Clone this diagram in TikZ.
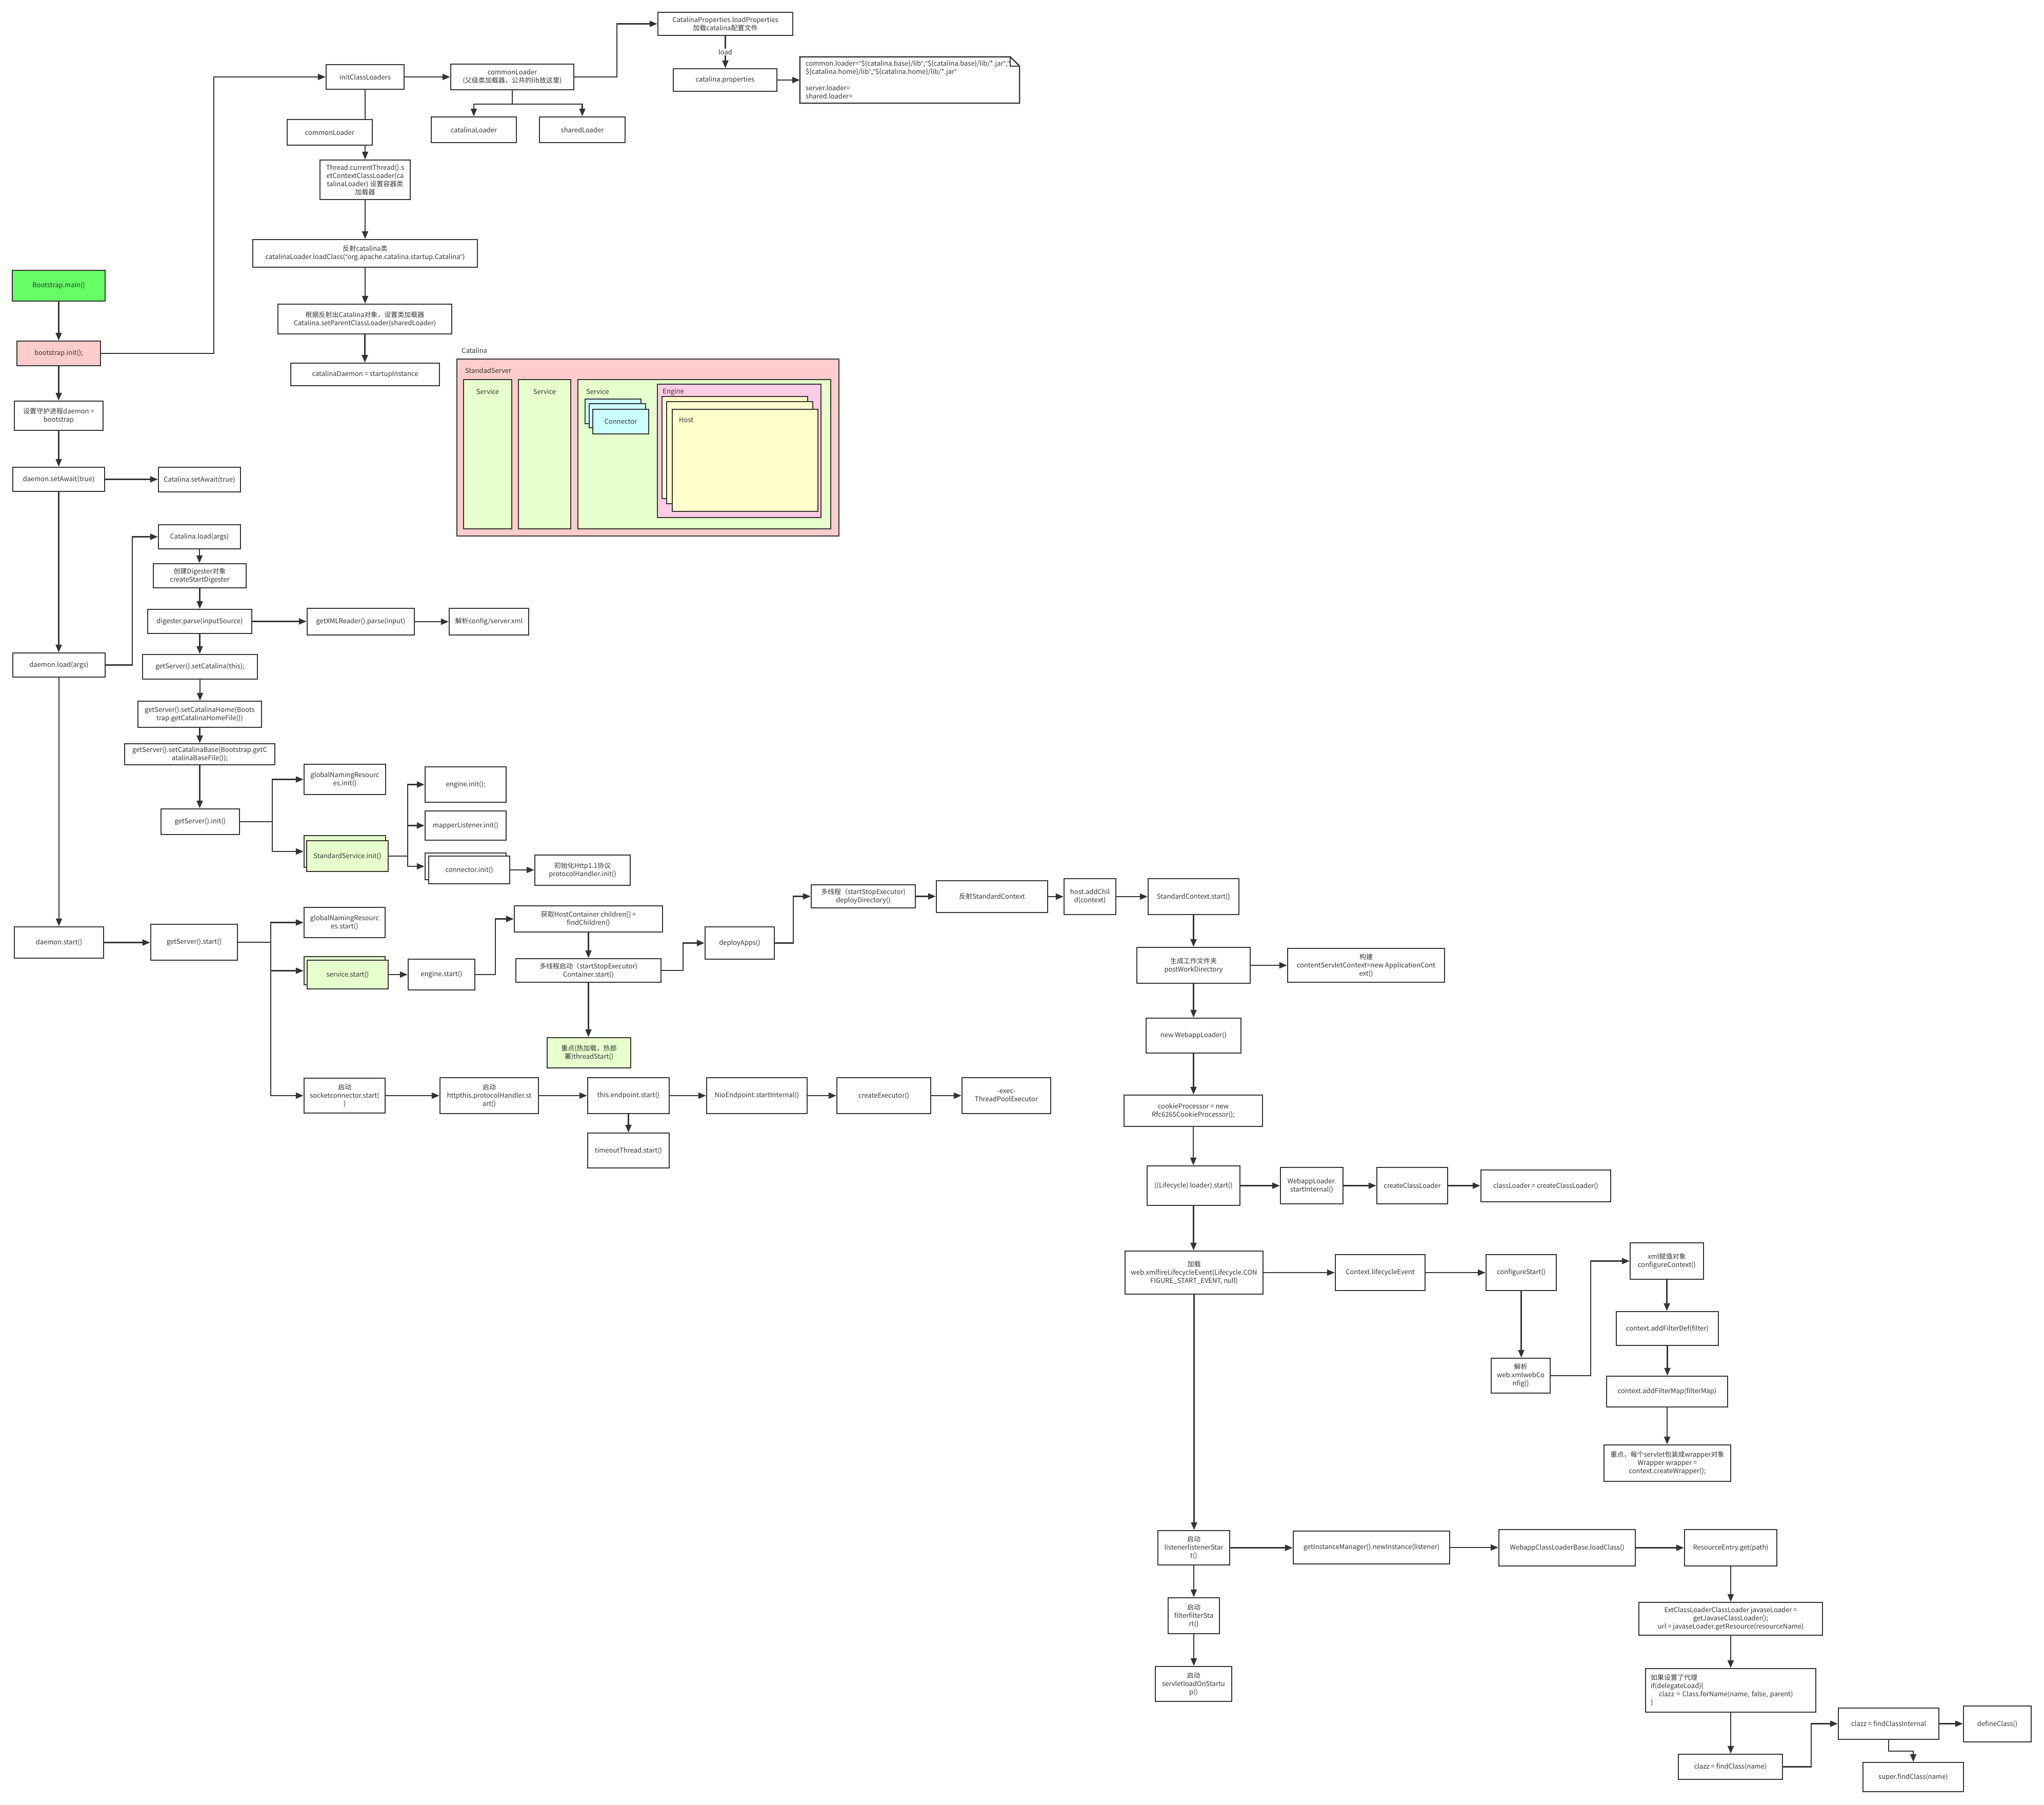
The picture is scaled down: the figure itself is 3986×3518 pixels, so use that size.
\documentclass[tikz,border=0pt]{standalone}
\usepackage{fontspec}
\setmainfont{Noto Sans CJK SC}
\newfontfamily\latf{Liberation Sans}
\newcommand{\dq}{{\latf"}}
\usetikzlibrary{arrows.meta,calc}
\definecolor{ln}{HTML}{333333}
\definecolor{bgreen}{HTML}{66FF66}
\definecolor{pinkf}{HTML}{FFCCCC}
\definecolor{lgreen}{HTML}{E6FFCC}
\definecolor{cyanf}{HTML}{CCFFFF}
\definecolor{engf}{HTML}{FFCCE6}
\definecolor{hostf}{HTML}{FFFFCC}
\tikzset{
  txt/.style={text=ln, font=\fontsize{13}{16}\selectfont},
  bx/.style={txt, draw=ln, line width=2.4pt, fill=white, align=center, inner sep=2pt},
  arr/.style={draw=ln, line width=2.2pt, -{Triangle[length=15pt,width=12pt]}},
  plain/.style={draw=ln, line width=2.2pt},
}
\newcommand{\mybox}[7][]{\node[bx,minimum width={(#5)-(#3)},minimum height={(#6)-(#4)},#1] (#2) at ({((#3)+(#5))/2},{((#4)+(#6))/2}) {#7};}
\begin{document}
\begin{tikzpicture}[x=1pt,y=-1pt]
\fill[white] (0,0) rectangle (3986,3518);
\useasboundingbox (0,0) rectangle (3986,3518);

% ---------- top: class loaders ----------
\mybox[fill=bgreen]{bmain}{24}{527}{205}{587}{Bootstrap.main()}
\mybox[fill=pinkf]{binit}{33}{665}{196}{713}{bootstrap.init();}
\mybox{icl}{636}{126}{788}{174}{initClassLoaders}
\mybox{cla}{560}{233}{726}{283}{commonLoader}
\mybox{thr}{624}{312}{800}{389}{Thread.currentThread().s\\etContextClassLoader(ca\\talinaLoader) 设置容器类\\加载器}
\mybox{refl}{493}{467}{931}{521}{反射catalina类\\catalinaLoader.loadClass(\dq org.apache.catalina.startup.Catalina\dq)}
\mybox{setp}{542}{593}{881}{651}{根据反射出Catalina对象，设置类加载器\\Catalina.setParentClassLoader(sharedLoader)}
\mybox{cd}{567}{708}{857}{752}{catalinaDaemon = startupInstance}
\mybox{clb}{879}{125}{1119}{175}{commonLoader\\(父级类加载器，公共的lib放这里)}
\mybox{catl}{841}{228}{1007}{278}{catalinaLoader}
\mybox{shl}{1052}{228}{1219}{278}{sharedLoader}
\mybox{cprop}{1283}{24}{1546}{69}{CatalinaProperties.loadProperties\\加载catalina配置文件}
\mybox{cpf}{1313}{134}{1515}{178}{catalina.properties}
\node[txt, minimum width=428, minimum height=90, inner sep=0] (note) at (1774,156) {};
\draw[draw=ln, line width=2.4pt, fill=white] (note.north west) -- ($(note.north east)+(-18,0)$) -- ($(note.north east)+(0,18)$) -- (note.south east) -- (note.south west) -- cycle;
\draw[draw=ln, line width=1.5pt] ($(note.north east)+(-18,0)$) -- ($(note.north east)+(-18,18)$) -- ($(note.north east)+(0,18)$);
\node[txt, anchor=north west, align=left, inner sep=0] (notetxt) at (1571,117) {common.loader=\dq\$\{catalina.base\}/lib\dq,\dq\$\{catalina.base\}/lib/*.jar\dq,\dq\\\$\{catalina.home\}/lib\dq,\dq\$\{catalina.home\}/lib/*.jar\dq\\[16pt]server.loader=\\shared.loader=};

\draw[arr] (bmain.south) -- (bmain.south |- binit.north);
\draw[arr] (binit.east) -- ++(220,0) |- (icl.west);
\draw[arr] (icl.east) -- (clb.west);
\draw[plain] (icl.south) -- (icl.south |- cla.north);
\draw[arr] (thr.north |- cla.south) -- (thr.north);
\draw[arr] (thr.south) -- (thr.south |- refl.north);
\draw[arr] (refl.south) -- (refl.south |- setp.north);
\draw[arr] (setp.south) -- (setp.south |- cd.north);
\coordinate (clbj) at ($(clb.south)+(0,27)$);
\draw[plain] (clb.south) -- (clbj);
\draw[arr] (clbj) -| (catl.north);
\draw[arr] (clbj) -| (shl.north);
\draw[arr] (clb.east) -- ++(83,0) |- (cprop.west);
\draw[arr] (cprop.south) -- (cprop.south |- cpf.north) node[midway, txt, fill=white, inner sep=1pt] (loadlbl) {load};
\draw[arr] (cpf.east) -- (note.west);

% ---------- Catalina structure ----------
\node[txt, anchor=west, inner sep=0] (catlbl) at (900,683) {Catalina};
\mybox[fill=pinkf]{stdsrv}{891}{700}{1636}{1045}{}
\node[txt, anchor=west, inner sep=0] (srvlbl) at (907,722) {StandadServer};
\mybox[fill=lgreen]{sva}{904}{740}{998}{1031}{}
\mybox[fill=lgreen]{svb}{1011}{740}{1113}{1031}{}
\mybox[fill=lgreen]{svc}{1127}{740}{1620}{1031}{}
\node[txt, inner sep=0] (svalbl) at (951,764) {Service};
\node[txt, inner sep=0] (svblbl) at (1062,764) {Service};
\node[txt, anchor=west, inner sep=0] (svclbl) at (1143,764) {Service};
\mybox[fill=cyanf]{cona}{1141}{778}{1250}{826}{}
\mybox[fill=cyanf]{conb}{1149}{787}{1259}{834}{}
\mybox[fill=cyanf]{conc}{1156}{798}{1265}{846}{Connector}
\mybox[fill=engf]{eng}{1282}{749}{1601}{1009}{}
\node[txt, anchor=west, inner sep=0] (englbl) at (1292,764) {Engine};
\mybox[fill=hostf]{hsa}{1291}{773}{1575}{972}{}
\mybox[fill=hostf]{hsb}{1300}{783}{1585}{982}{}
\mybox[fill=hostf]{hsc}{1311}{798}{1595}{997}{}
\node[txt, anchor=west, inner sep=0] (hstlbl) at (1324,819) {Host};

% ---------- daemon / load ----------
\mybox{dmn}{28}{782}{201}{839}{设置守护进程daemon =\\bootstrap}
\mybox{setaw}{25}{911}{204}{958}{daemon.setAwait(true)}
\mybox{csetaw}{309}{911}{469}{959}{Catalina.setAwait(true)}
\mybox{dload}{25}{1273}{205}{1320}{daemon.load(args)}
\mybox{cload}{309}{1023}{469}{1070}{Catalina.load(args)}
\mybox{dig}{299}{1099}{480}{1146}{创建Digester对象\\createStartDigester}
\mybox{parse}{288}{1188}{491}{1235}{digester.parse(inputSource)}
\mybox{xmlr}{599}{1186}{808}{1238}{getXMLReader().parse(input)}
\mybox{srvxml}{876}{1186}{1031}{1238}{解析config/server.xml}
\mybox{setcat}{278}{1276}{502}{1324}{getServer().setCatalina(this);}
\mybox{sethome}{269}{1367}{510}{1418}{getServer().setCatalinaHome(Boots\\trap.getCatalinaHomeFile())}
\mybox{setbase}{243}{1450}{536}{1491}{getServer().setCatalinaBase(Bootstrap.getC\\atalinaBaseFile());}
\mybox{sinit}{314}{1577}{467}{1627}{getServer().init()}
\mybox{gnrinit}{593}{1490}{752}{1549}{globalNamingResourc\\es.init()}
\mybox[fill=lgreen]{ssinitb}{593}{1629}{752}{1691}{}
\mybox[fill=lgreen]{ssinit}{598}{1639}{757}{1699}{StandardService.init()}
\mybox{einit}{829}{1495}{987}{1564}{engine.init();}
\mybox{mlinit}{829}{1581}{987}{1638}{mapperListener.init()}
\mybox{cinitb}{829}{1663}{987}{1715}{}
\mybox{cinit}{836}{1669}{994}{1723}{connector.init()}
\mybox{http}{1043}{1667}{1229}{1726}{初始化Http1.1协议\\protocolHandler.init()}

\draw[arr] (binit.south) -- (binit.south |- dmn.north);
\draw[arr] (dmn.south) -- (dmn.south |- setaw.north);
\draw[arr] (setaw.east) -- (setaw.east -| csetaw.west);
\draw[arr] (setaw.south) -- (setaw.south |- dload.north);
\draw[arr] (dload.east) -- ++(52,0) |- (cload.west);
\draw[arr] (cload.south) -- (cload.south |- dig.north);
\draw[arr] (dig.south) -- (dig.south |- parse.north);
\draw[arr] (parse.east) -- (parse.east -| xmlr.west);
\draw[arr] (xmlr.east) -- (xmlr.east -| srvxml.west);
\draw[arr] (parse.south) -- (parse.south |- setcat.north);
\draw[arr] (setcat.south) -- (setcat.south |- sethome.north);
\draw[arr] (sethome.south) -- (sethome.south |- setbase.north);
\draw[arr] (setbase.south) -- (setbase.south |- sinit.north);
\draw[arr] (sinit.east) -- ++(63,0) |- (gnrinit.west);
\draw[arr] (sinit.east) -- ++(63,0) |- (ssinitb.west);
\draw[arr] (ssinit.east) -- ++(37,0) |- (einit.west);
\draw[arr] (ssinit.east) -- ++(37,0) |- (mlinit.west);
\draw[arr] (ssinit.east) -- ++(37,0) |- (cinitb.west);
\draw[arr] (cinit.east) -- (cinit.east -| http.west);

% ---------- start ----------
\mybox{dstart}{28}{1807}{202}{1868}{daemon.start()}
\mybox{gsstart}{294}{1802}{463}{1872}{getServer().start()}
\mybox{gnrstart}{593}{1769}{751}{1828}{globalNamingResourc\\es.start()}
\mybox[fill=lgreen]{svstartb}{593}{1865}{751}{1920}{}
\mybox[fill=lgreen]{svstart}{599}{1872}{757}{1928}{service.start()}
\mybox{estart}{796}{1870}{926}{1930}{engine.start()}
\mybox{hostc}{1003}{1766}{1292}{1817}{获取HostContainer children[] =\\findChildren()}
\mybox{cstart}{1006}{1869}{1289}{1915}{多线程启动（startStopExecutor)\\Container.start()}
\mybox[fill=lgreen]{tstart}{1067}{2023}{1230}{2082}{重点(热加载，热部\\署)threadStart()}
\mybox{sock}{593}{2102}{751}{2170}{启动\\socketconnector.start(\\)}
\mybox{phs}{858}{2101}{1050}{2171}{启动\\httpthis.protocolHandler.st\\art()}
\mybox{ep}{1146}{2101}{1305}{2171}{this.endpoint.start()}
\mybox{tot}{1146}{2209}{1305}{2277}{timeoutThread.start()}
\mybox{nio}{1378}{2101}{1574}{2171}{NioEndpoint.startInternal()}
\mybox{cexec}{1632}{2101}{1815}{2171}{createExecutor()}
\mybox{tpe}{1876}{2101}{2049}{2171}{-exec-\\ThreadPoolExecutor}
\mybox{dapps}{1375}{1807}{1510}{1870}{deployApps()}
\mybox{ddir}{1582}{1725}{1785}{1770}{多线程（startStopExecutor)\\deployDirectory()}
\mybox{rsc}{1826}{1717}{2043}{1779}{反射StandardContext}
\mybox{hadd}{2075}{1713}{2176}{1783}{host.addChil\\d(context)}

\draw[arr] (dload.south) -- (dload.south |- dstart.north);
\draw[arr] (dstart.east) -- (dstart.east -| gsstart.west);
\draw[arr] (gsstart.east) -- ++(64,0) |- (gnrstart.west);
\draw[arr] (gsstart.east) -- ++(64,0) |- (svstartb.west);
\draw[arr] (gsstart.east) -- ++(64,0) |- (sock.west);
\draw[arr] (svstart.east) -- (svstart.east -| estart.west);
\draw[arr] (estart.east) -- ++(39,0) |- (hostc.west);
\draw[arr] (hostc.south) -- (hostc.south |- cstart.north);
\draw[arr] (cstart.south) -- (cstart.south |- tstart.north);
\draw[arr] (cstart.east) -- ++(42,0) |- (dapps.west);
\draw[arr] (dapps.east) -- ++(36,0) |- (ddir.west);
\draw[arr] (ddir.east) -- (ddir.east -| rsc.west);
\draw[arr] (rsc.east) -- (rsc.east -| hadd.west);
\draw[arr] (sock.east) -- (sock.east -| phs.west);
\draw[arr] (phs.east) -- (phs.east -| ep.west);
\draw[arr] (ep.east) -- (ep.east -| nio.west);
\draw[arr] (nio.east) -- (nio.east -| cexec.west);
\draw[arr] (cexec.east) -- (cexec.east -| tpe.west);
\draw[arr] (ep.south) -- (ep.south |- tot.north);

% ---------- context ----------
\mybox{scs}{2239}{1713}{2416}{1783}{StandardContext.start()}
\mybox{pwd}{2217}{1847}{2438}{1917}{生成工作文件夹\\postWorkDirectory}
\mybox{asc}{2511}{1849}{2817}{1915}{构建\\contentServletContext=new ApplicationCont\\ext()}
\mybox{nwl}{2235}{1985}{2420}{2053}{new WebappLoader()}
\mybox{cookie}{2192}{2135}{2462}{2196}{cookieProcessor = new\\Rfc6265CookieProcessor();}
\mybox{lstart}{2237}{2273}{2418}{2350}{((Lifecycle) loader).start()}
\mybox{wlsi}{2497}{2276}{2619}{2347}{WebappLoader.\\startInternal()}
\mybox{ccl}{2685}{2276}{2823}{2347}{createClassLoader}
\mybox{clc}{2888}{2281}{3141}{2343}{classLoader = createClassLoader()}
\mybox{webxml}{2194}{2439}{2463}{2523}{加载\\web.xmlfireLifecycleEvent(Lifecycle.CON\\FIGURE\_START\_EVENT, null)}
\mybox{cle}{2604}{2446}{2779}{2516}{Context.lifecycleEvent}
\mybox{cfs}{2898}{2446}{3035}{2516}{configureStart()}
\mybox{cfc}{3179}{2423}{3322}{2494}{xml赋值对象\\configureContext()}
\mybox{wxc}{2908}{2648}{3023}{2716}{解析\\web.xmlwebCo\\nfig()}
\mybox{afd}{3152}{2557}{3351}{2623}{context.addFilterDef(filter)}
\mybox{afm}{3133}{2683}{3369}{2743}{context.addFilterMap(filterMap)}
\mybox{wrap}{3128}{2817}{3375}{2888}{重点，每个servlet包装成wrapper对象\\Wrapper wrapper =\\context.createWrapper();}

\draw[arr] (hadd.east) -- (hadd.east -| scs.west);
\draw[arr] (scs.south) -- (scs.south |- pwd.north);
\draw[arr] (pwd.east) -- (pwd.east -| asc.west);
\draw[arr] (pwd.south) -- (pwd.south |- nwl.north);
\draw[arr] (nwl.south) -- (nwl.south |- cookie.north);
\draw[arr] (cookie.south) -- (cookie.south |- lstart.north);
\draw[arr] (lstart.east) -- (lstart.east -| wlsi.west);
\draw[arr] (wlsi.east) -- (wlsi.east -| ccl.west);
\draw[arr] (ccl.east) -- (ccl.east -| clc.west);
\draw[arr] (lstart.south) -- (lstart.south |- webxml.north);
\draw[arr] (webxml.east) -- (webxml.east -| cle.west);
\draw[arr] (cle.east) -- (cle.east -| cfs.west);
\draw[arr] (cfs.south) -- (cfs.south |- wxc.north);
\draw[arr] (wxc.east) -- ++(78,0) |- (cfc.west);
\draw[arr] (cfc.south) -- (cfc.south |- afd.north);
\draw[arr] (afd.south) -- (afd.south |- afm.north);
\draw[arr] (afm.south) -- (afm.south |- wrap.north);

% ---------- listeners / class loading ----------
\mybox{lis}{2258}{2984}{2398}{3051}{启动\\listenerlistenerStar\\t()}
\mybox{gim}{2522}{2985}{2827}{3049}{getInstanceManager().newInstance(listener)}
\mybox{wcl}{2923}{2982}{3189}{3053}{WebappClassLoaderBase.loadClass()}
\mybox{reg}{3285}{2982}{3465}{3053}{ResourceEntry.get(path)}
\mybox{fil}{2278}{3115}{2378}{3185}{启动\\filterfilterSta\\rt()}
\mybox{sls}{2253}{3249}{2402}{3317}{启动\\servletloadOnStartu\\p()}
\mybox{ext}{3196}{3124}{3554}{3188}{ExtClassLoaderClassLoader javaseLoader =\\getJavaseClassLoader();\\url = javaseLoader.getResource(resourceName)}
\mybox[text width=312, align=left]{deleg}{3209}{3253}{3541}{3338}{如果设置了代理\\if(delegateLoad)\{\\\hspace*{16pt}clazz = Class.forName(name, false, parent)\\\}}
\mybox{fc}{3273}{3420}{3476}{3469}{clazz = findClass(name)}
\mybox{fci}{3585}{3330}{3781}{3391}{clazz = findClassInternal}
\mybox{def}{3829}{3326}{3961}{3396}{defineClass()}
\mybox{sfc}{3633}{3436}{3829}{3493}{super.findClass(name)}

\draw[arr] (webxml.south) -- (webxml.south |- lis.north);
\draw[arr] (lis.east) -- (lis.east -| gim.west);
\draw[arr] (gim.east) -- (gim.east -| wcl.west);
\draw[arr] (wcl.east) -- (wcl.east -| reg.west);
\draw[arr] (lis.south) -- (lis.south |- fil.north);
\draw[arr] (fil.south) -- (fil.south |- sls.north);
\draw[arr] (reg.south) -- (reg.south |- ext.north);
\draw[arr] (ext.south) -- (ext.south |- deleg.north);
\draw[arr] (deleg.south) -- (deleg.south |- fc.north);
\draw[arr] (fc.east) -- ++(55,0) |- (fci.west);
\draw[arr] (fci.east) -- (fci.east -| def.west);
\draw[arr] (fci.south) -- ++(0,22) -| (sfc.north);
\end{tikzpicture}
\end{document}
